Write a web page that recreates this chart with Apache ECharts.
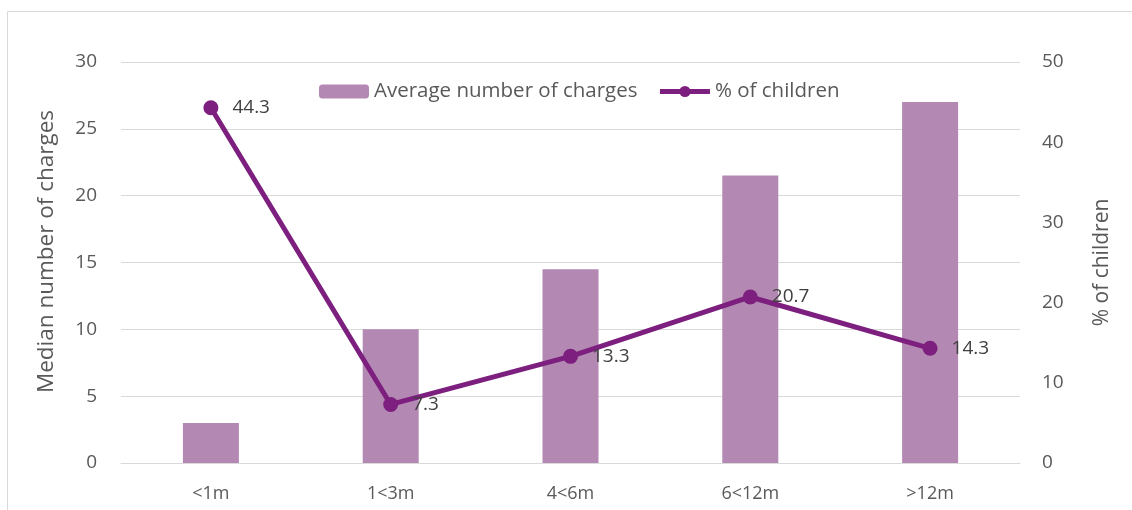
<!DOCTYPE html>
<html>
<head>
<meta charset="utf-8">
<script src="https://cdn.jsdelivr.net/npm/echarts@6/dist/echarts.min.js"></script>
<style>
  html, body { margin: 0; padding: 0; background: #fff; }
  #chart { width: 1132px; height: 510px; }
</style>
</head>
<body>
<div id="chart"></div>
<script>
// Duration bands on the x axis
const categories = ['<1m', '1<3m', '4<6m', '6<12m', '>12m'];
// Bars: charges per child (left axis)
const chargesValues = [3, 10, 14.5, 21.5, 27];
// Line: share of children in each band (right axis)
const childrenPct = [44.3, 7.3, 13.3, 20.7, 14.3];

const barName = 'Average number of charges';
const lineName = '% of children';
const leftAxisName = 'Median number of charges';
const rightAxisName = '% of children';

const textColor = '#595959';
const gridColor = '#d9d9d9';
const barColor = '#b388b3';
const lineColor = '#7d1f7e';
const fontFamily = '"Open Sans", Lato, sans-serif';

const chart = echarts.init(document.getElementById('chart'), null, { renderer: 'canvas' });

chart.setOption({
  animation: false,
  textStyle: { fontFamily: fontFamily },
  grid: { left: 121, right: 112, top: 62, bottom: 47, containLabel: false },
  legend: {
    top: 76,
    left: 314,
    itemWidth: 50,
    itemHeight: 14,
    itemGap: 20,
    textStyle: { color: textColor, fontSize: 20.5, fontFamily: fontFamily },
    data: [
      { name: barName, itemStyle: { color: barColor } },
      { name: lineName, lineStyle: { color: lineColor, width: 5 }, itemStyle: { color: lineColor } }
    ]
  },
  xAxis: {
    type: 'category',
    data: categories,
    axisLine: { show: true, lineStyle: { color: gridColor, width: 1 } },
    axisTick: { show: false },
    axisLabel: { color: textColor, fontSize: 18, margin: 22 }
  },
  yAxis: [
    {
      type: 'value',
      min: 0, max: 30, interval: 5,
      name: leftAxisName,
      nameLocation: 'middle',
      nameGap: 63,
      nameTextStyle: { color: textColor, fontSize: 22.5, padding: [0, 0, 0, 22] },
      axisLine: { show: false },
      axisTick: { show: false },
      axisLabel: { color: textColor, fontSize: 19, margin: 24 },
      splitLine: { show: true, lineStyle: { color: gridColor, width: 1 } }
    },
    {
      type: 'value',
      min: 0, max: 50, interval: 10,
      name: rightAxisName,
      nameLocation: 'middle',
      nameGap: 72,
      nameTextStyle: { color: textColor, fontSize: 21 },
      axisLine: { show: false },
      axisTick: { show: false },
      axisLabel: { color: textColor, fontSize: 19, margin: 22 },
      splitLine: { show: false }
    }
  ],
  series: [
    {
      name: barName,
      type: 'bar',
      yAxisIndex: 0,
      data: chargesValues,
      barWidth: 56,
      itemStyle: { color: barColor },
      z: 2
    },
    {
      name: lineName,
      type: 'line',
      yAxisIndex: 1,
      data: childrenPct,
      symbol: 'circle',
      symbolSize: 15,
      lineStyle: { color: lineColor, width: 5 },
      itemStyle: { color: lineColor },
      label: {
        show: true,
        position: 'right',
        distance: 14,
        color: '#404040',
        fontSize: 19,
        formatter: p => p.value.toFixed(1)
      },
      z: 3
    }
  ],
  graphic: [
    {
      type: 'polyline',
      silent: true,
      shape: { points: [[7.5, 510], [7.5, 11.5], [1132, 11.5]] },
      style: { stroke: gridColor, lineWidth: 1, fill: null }
    }
  ]
});
</script>
</body>
</html>
